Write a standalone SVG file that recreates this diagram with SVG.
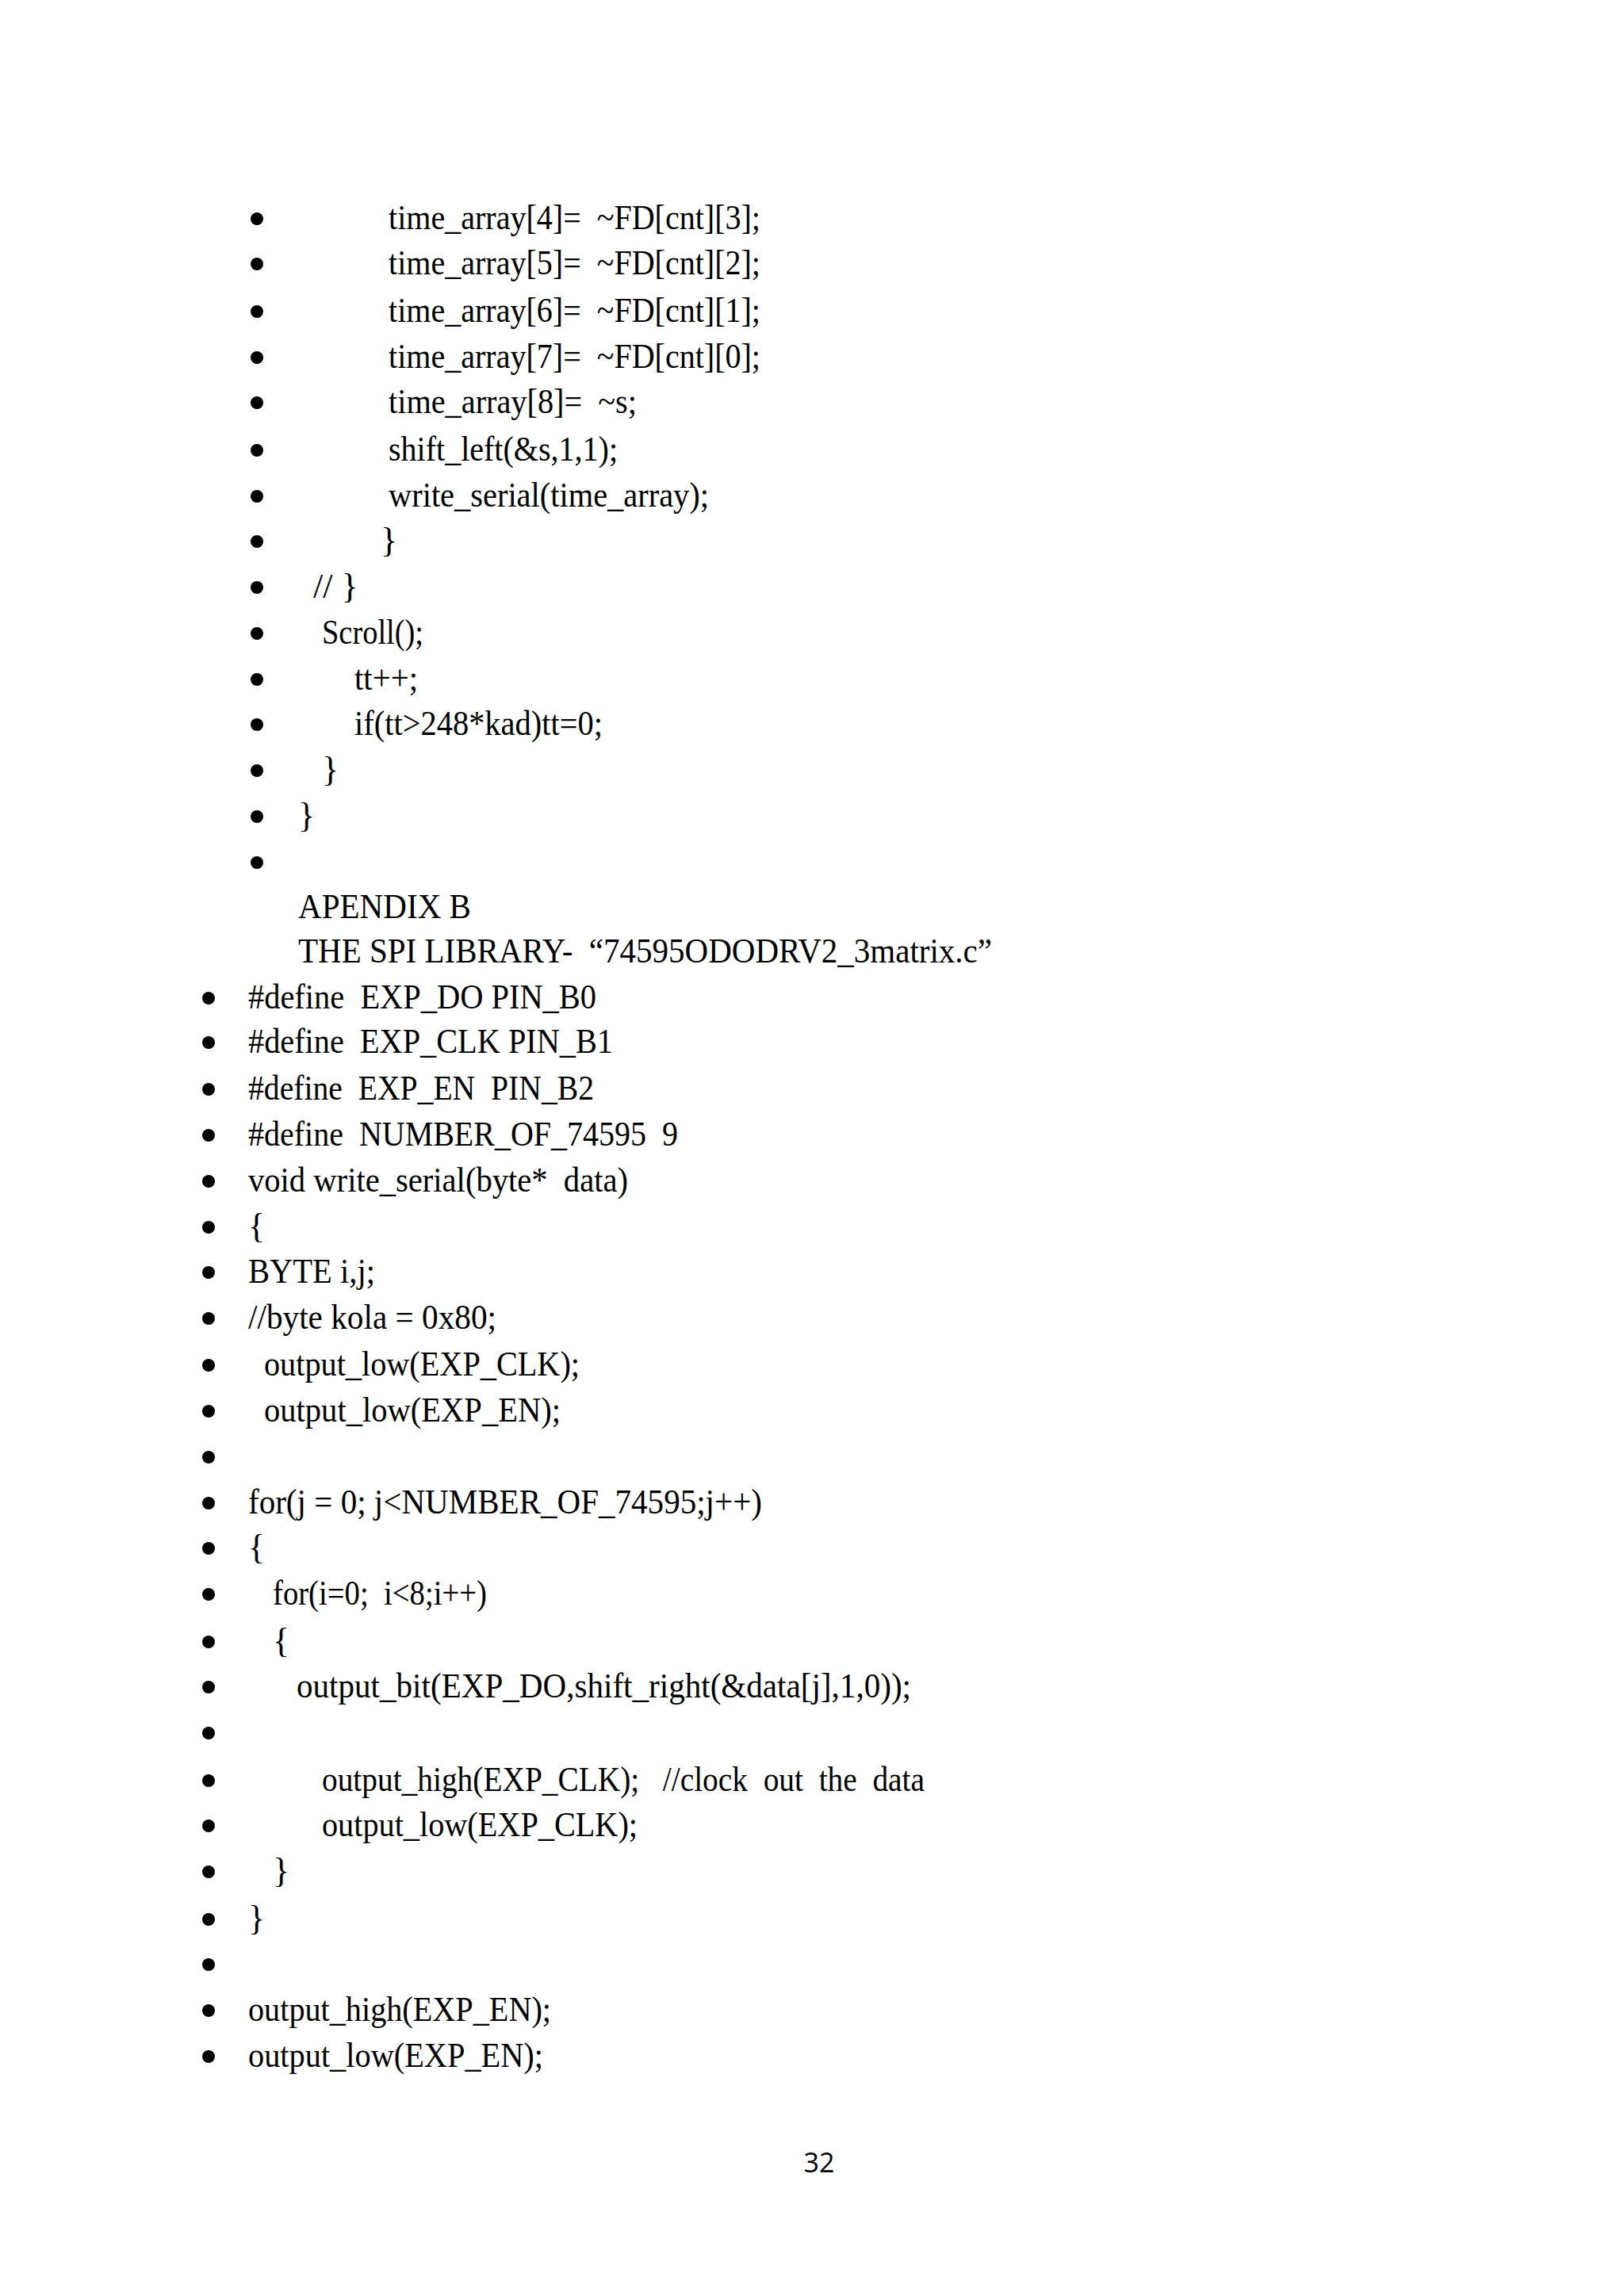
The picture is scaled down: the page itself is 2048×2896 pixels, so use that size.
<svg xmlns="http://www.w3.org/2000/svg" width="2048" height="2896" viewBox="0 0 2048 2896">
<style>
text{font-family:"Liberation Serif","Times New Roman",serif;font-size:44px;fill:#000;white-space:pre}
.b{fill:#000}
.pg{font-family:"Open Sans","Liberation Sans",sans-serif;font-size:34px}
</style>
<rect width="2048" height="2896" fill="#fff"/>
<g id="bullets1" class="b">
<circle cx="324" cy="276" r="8"/><circle cx="324" cy="333" r="8"/><circle cx="324" cy="393" r="8"/><circle cx="324" cy="451" r="8"/><circle cx="324" cy="508" r="8"/><circle cx="324" cy="568" r="8"/><circle cx="324" cy="626" r="8"/><circle cx="324" cy="683" r="8"/><circle cx="324" cy="741" r="8"/><circle cx="324" cy="799" r="8"/><circle cx="324" cy="857" r="8"/><circle cx="324" cy="914" r="8"/><circle cx="324" cy="972" r="8"/><circle cx="324" cy="1030" r="8"/><circle cx="324" cy="1088" r="8"/>
</g>
<g id="bullets2" class="b">
<circle cx="263" cy="1259" r="8"/><circle cx="263" cy="1315" r="8"/><circle cx="263" cy="1374" r="8"/><circle cx="263" cy="1432" r="8"/><circle cx="263" cy="1490" r="8"/><circle cx="263" cy="1548" r="8"/><circle cx="263" cy="1605" r="8"/><circle cx="263" cy="1663" r="8"/><circle cx="263" cy="1722" r="8"/><circle cx="263" cy="1780" r="8"/><circle cx="263" cy="1838" r="8"/><circle cx="263" cy="1896" r="8"/><circle cx="263" cy="1953" r="8"/><circle cx="263" cy="2011" r="8"/><circle cx="263" cy="2071" r="8"/><circle cx="263" cy="2128" r="8"/><circle cx="263" cy="2186" r="8"/><circle cx="263" cy="2246" r="8"/><circle cx="263" cy="2303" r="8"/><circle cx="263" cy="2361" r="8"/><circle cx="263" cy="2421" r="8"/><circle cx="263" cy="2478" r="8"/><circle cx="263" cy="2536" r="8"/><circle cx="263" cy="2594" r="8"/>
</g>
<g id="text1">
<text x="490" y="289" textLength="469" lengthAdjust="spacingAndGlyphs">time_array[4]=  ~FD[cnt][3];</text>
<text x="490" y="346" textLength="469" lengthAdjust="spacingAndGlyphs">time_array[5]=  ~FD[cnt][2];</text>
<text x="490" y="406" textLength="469" lengthAdjust="spacingAndGlyphs">time_array[6]=  ~FD[cnt][1];</text>
<text x="490" y="464" textLength="469" lengthAdjust="spacingAndGlyphs">time_array[7]=  ~FD[cnt][0];</text>
<text x="490" y="521" textLength="313" lengthAdjust="spacingAndGlyphs">time_array[8]=  ~s;</text>
<text x="490" y="581" textLength="289" lengthAdjust="spacingAndGlyphs">shift_left(&amp;s,1,1);</text>
<text x="490" y="639" textLength="404" lengthAdjust="spacingAndGlyphs">write_serial(time_array);</text>
<text x="480" y="696">}</text>
<text x="395" y="754">// }</text>
<text x="406" y="812" textLength="128" lengthAdjust="spacingAndGlyphs">Scroll();</text>
<text x="447" y="870" textLength="80" lengthAdjust="spacingAndGlyphs">tt++;</text>
<text x="447" y="927" textLength="313" lengthAdjust="spacingAndGlyphs">if(tt&gt;248*kad)tt=0;</text>
<text x="406" y="985">}</text>
<text x="376" y="1043">}</text>
<text x="376" y="1158" textLength="218" lengthAdjust="spacingAndGlyphs">APENDIX B</text>
<text x="376" y="1214" textLength="875" lengthAdjust="spacingAndGlyphs">THE SPI LIBRARY-  “74595ODODRV2_3matrix.c”</text>
</g>
<g id="text2">
<text x="313" y="1272" textLength="439" lengthAdjust="spacingAndGlyphs">#define  EXP_DO PIN_B0</text>
<text x="313" y="1328" textLength="460" lengthAdjust="spacingAndGlyphs">#define  EXP_CLK PIN_B1</text>
<text x="313" y="1387" textLength="436" lengthAdjust="spacingAndGlyphs">#define  EXP_EN  PIN_B2</text>
<text x="313" y="1445" textLength="542" lengthAdjust="spacingAndGlyphs">#define  NUMBER_OF_74595  9</text>
<text x="313" y="1503" textLength="479" lengthAdjust="spacingAndGlyphs">void write_serial(byte*  data)</text>
<text x="313" y="1561">{</text>
<text x="313" y="1618" textLength="160" lengthAdjust="spacingAndGlyphs">BYTE i,j;</text>
<text x="313" y="1676" textLength="313" lengthAdjust="spacingAndGlyphs">//byte kola = 0x80;</text>
<text x="333" y="1735" textLength="398" lengthAdjust="spacingAndGlyphs">output_low(EXP_CLK);</text>
<text x="333" y="1793" textLength="374" lengthAdjust="spacingAndGlyphs">output_low(EXP_EN);</text>
<text x="313" y="1909" textLength="648" lengthAdjust="spacingAndGlyphs">for(j = 0; j&lt;NUMBER_OF_74595;j++)</text>
<text x="313" y="1966">{</text>
<text x="344" y="2024" textLength="270" lengthAdjust="spacingAndGlyphs">for(i=0;  i&lt;8;i++)</text>
<text x="344" y="2084">{</text>
<text x="374" y="2141" textLength="775" lengthAdjust="spacingAndGlyphs">output_bit(EXP_DO,shift_right(&amp;data[j],1,0));</text>
<text x="406" y="2259" textLength="760" lengthAdjust="spacingAndGlyphs">output_high(EXP_CLK);   //clock  out  the  data</text>
<text x="406" y="2316" textLength="398" lengthAdjust="spacingAndGlyphs">output_low(EXP_CLK);</text>
<text x="344" y="2374">}</text>
<text x="313" y="2434">}</text>
<text x="313" y="2549" textLength="382" lengthAdjust="spacingAndGlyphs">output_high(EXP_EN);</text>
<text x="313" y="2607" textLength="372" lengthAdjust="spacingAndGlyphs">output_low(EXP_EN);</text>
</g>
<text class="pg" x="1033" y="2740" text-anchor="middle">32</text>
</svg>
